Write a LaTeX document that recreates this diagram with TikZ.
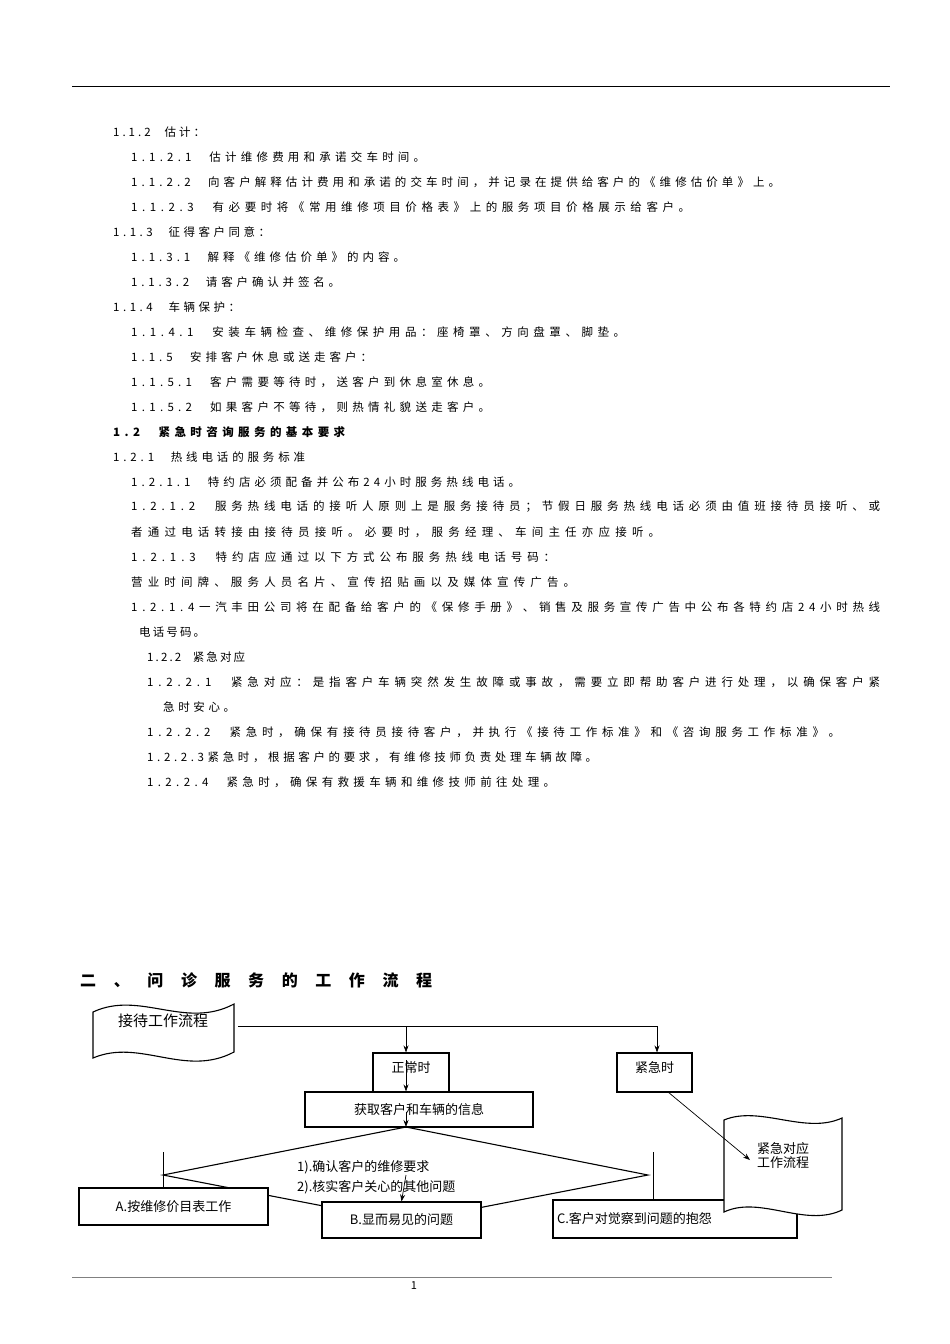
\documentclass[tikz,border=0pt]{standalone}
\usepackage{fontspec}
\usetikzlibrary{arrows.meta}
\setmainfont{Noto Sans CJK SC}
\makeatletter
\def\sprA#1{\ifx#1\relax\else#1\hfil\expandafter\sprA\fi}
\newcommand\spr[1]{\sprA#1\relax\unskip}
\makeatother
\newcommand\tline[5][]{\node[anchor=west,inner sep=0pt,font=\fontsize{11.5}{12}\selectfont#1] at (#2,#3) {\makebox[#4pt][s]{\spr{#5}}};}
\begin{document}
\begin{tikzpicture}[x=1pt,y=-1pt,
  box/.style={draw,line width=1.1pt,inner sep=0pt},
  lbl/.style={font=\fontsize{13}{14}\selectfont},
  ar/.style={-{Stealth[length=7pt,width=5pt]},line width=0.7pt}]
\useasboundingbox (0,0) rectangle (950,1344);
\draw[line width=1pt] (72,86) -- (890,86);
\tline{113}{132}{92}{1.1.2~~估计：}
\tline{131}{157}{294}{1.1.2.1~~估计维修费用和承诺交车时间。}
\tline{131}{182}{649}{1.1.2.2~~向客户解释估计费用和承诺的交车时间，并记录在提供给客户的《维修估价单》上。}
\tline{131}{207}{559}{1.1.2.3~~有必要时将《常用维修项目价格表》上的服务项目价格展示给客户。}
\tline{113}{232}{157}{1.1.3~~征得客户同意：}
\tline{131}{257}{274}{1.1.3.1~~解释《维修估价单》的内容。}
\tline{131}{282}{209}{1.1.3.2~~请客户确认并签名。}
\tline{113}{307}{127}{1.1.4~~车辆保护：}
\tline{131}{332}{494}{1.1.4.1~~安装车辆检查、维修保护用品：座椅罩、方向盘罩、脚垫。}
\tline{131}{357}{241}{1.1.5~~安排客户休息或送走客户：}
\tline{131}{382}{359}{1.1.5.1~~客户需要等待时，送客户到休息室休息。}
\tline{131}{407}{359}{1.1.5.2~~如果客户不等待，则热情礼貌送走客户。}
\tline[\bfseries]{113}{432}{232}{1.2~~紧急时咨询服务的基本要求}
\tline{113}{457}{192}{1.2.1~~热线电话的服务标准}
\tline{131}{482}{389}{1.2.1.1~~特约店必须配备并公布24小时服务热线电话。}
\tline{131}{507}{749}{1.2.1.2~~服务热线电话的接听人原则上是服务接待员；节假日服务热线电话必须由值班接待员接听、或}
\tline{131}{532}{529}{者通过电话转接由接待员接听。必要时，服务经理、车间主任亦应接听。}
\tline{131}{557}{424}{1.2.1.3~~特约店应通过以下方式公布服务热线电话号码：}
\tline{131}{582}{444}{营业时间牌、服务人员名片、宣传招贴画以及媒体宣传广告。}
\tline{131}{607}{749}{1.2.1.4一汽丰田公司将在配备给客户的《保修手册》、销售及服务宣传广告中公布各特约店24小时热线}
\tline{139}{632}{66}{电话号码。}
\tline{147}{657}{98}{1.2.2~~紧急对应}
\tline{147}{682}{733}{1.2.2.1~~紧急对应：是指客户车辆突然发生故障或事故，需要立即帮助客户进行处理，以确保客户紧}
\tline{163}{707}{72}{急时安心。}
\tline{147}{732}{693}{1.2.2.2~~紧急时，确保有接待员接待客户，并执行《接待工作标准》和《咨询服务工作标准》。}
\tline{147}{757}{450}{1.2.2.3紧急时，根据客户的要求，有维修技师负责处理车辆故障。}
\tline{147}{782}{408}{1.2.2.4~~紧急时，确保有救援车辆和维修技师前往处理。}
\node[anchor=west,inner sep=0pt,font=\fontsize{16}{17}\selectfont\bfseries] (title) at (80,980) {\makebox[352pt][s]{\spr{二、问诊服务的工作流程}}};
% flowchart
\draw[line width=1.1pt,fill=white] (93,1012) .. controls (140,990) and (185,1030) .. (234,1004) -- (234,1052) .. controls (185,1078) and (140,1038) .. (93,1058) -- cycle;
\node[font=\fontsize{15}{16}\selectfont] (recv) at (163,1021) {接待工作流程};
\coordinate (j0) at (238,1026);
\coordinate (j1) at (406,1026);
\coordinate (j2) at (657,1026);
\node[box,minimum width=76pt,minimum height=39pt] (norm) at (411,1072.5) {};
\node[lbl] (normt) at (411,1068) {正常时};
\node[box,minimum width=75pt,minimum height=39pt] (emg) at (654.5,1072.5) {};
\node[lbl] (emgt) at (654.5,1068) {紧急时};
\draw[line width=0.7pt] (j0) -- (j2);
\draw[ar] (j1) -- (norm.north -| j1);
\draw[ar] (j2) -- (emg.north -| j2);
\node[box,minimum width=228pt,minimum height=35pt,lbl] (info) at (419,1109.5) {获取客户和车辆的信息};
\draw[ar] (406,1060) -- (info.north -| j1);
\coordinate (dt) at (406,1127);
\coordinate (dl) at (163,1175);
\coordinate (dr) at (648,1175);
\coordinate (db) at (406,1222);
\draw[ar] (406,1112) -- (dt);
\draw[line width=1.1pt] (dl) -- (dt) -- (dr) -- (db) -- cycle;
\draw[line width=0.7pt] (163,1152) -- (163,1188);
\draw[line width=0.7pt] (653,1152) -- (653,1200);
\node[box,fill=white,minimum width=189pt,minimum height=37pt,lbl] (A) at (173.5,1206.5) {A.按维修价目表工作};
\node[box,fill=white,minimum width=159pt,minimum height=36pt,lbl] (B) at (401.5,1220) {B.显而易见的问题};
\node[box,fill=white,minimum width=244pt,minimum height=38pt,lbl,text width=236pt,align=left] (C) at (675,1219) {C.客户对觉察到问题的抱怨};
\node[anchor=west,lbl,inner sep=0pt] (q1) at (297,1167) {1).确认客户的维修要求};
\node[anchor=west,lbl,inner sep=0pt] (q2) at (297,1187) {2).核实客户关心的其他问题};
\draw[ar] (406,1175) -- (B.north);
\draw[line width=1.1pt,fill=white] (724,1120) .. controls (760,1105) and (805,1135) .. (842,1118) -- (842,1210) .. controls (805,1228) and (760,1195) .. (724,1212) -- cycle;
\node[lbl,align=center] (emgflow) at (783,1155) {紧急对应\\工作流程};
\draw[ar] (668,1092) -- (750,1160);
\draw[line width=1pt,gray] (72,1277) -- (832,1277);
\node[font=\fontsize{11}{12}\selectfont] (pg) at (414,1286) {1};
\end{tikzpicture}
\end{document}
